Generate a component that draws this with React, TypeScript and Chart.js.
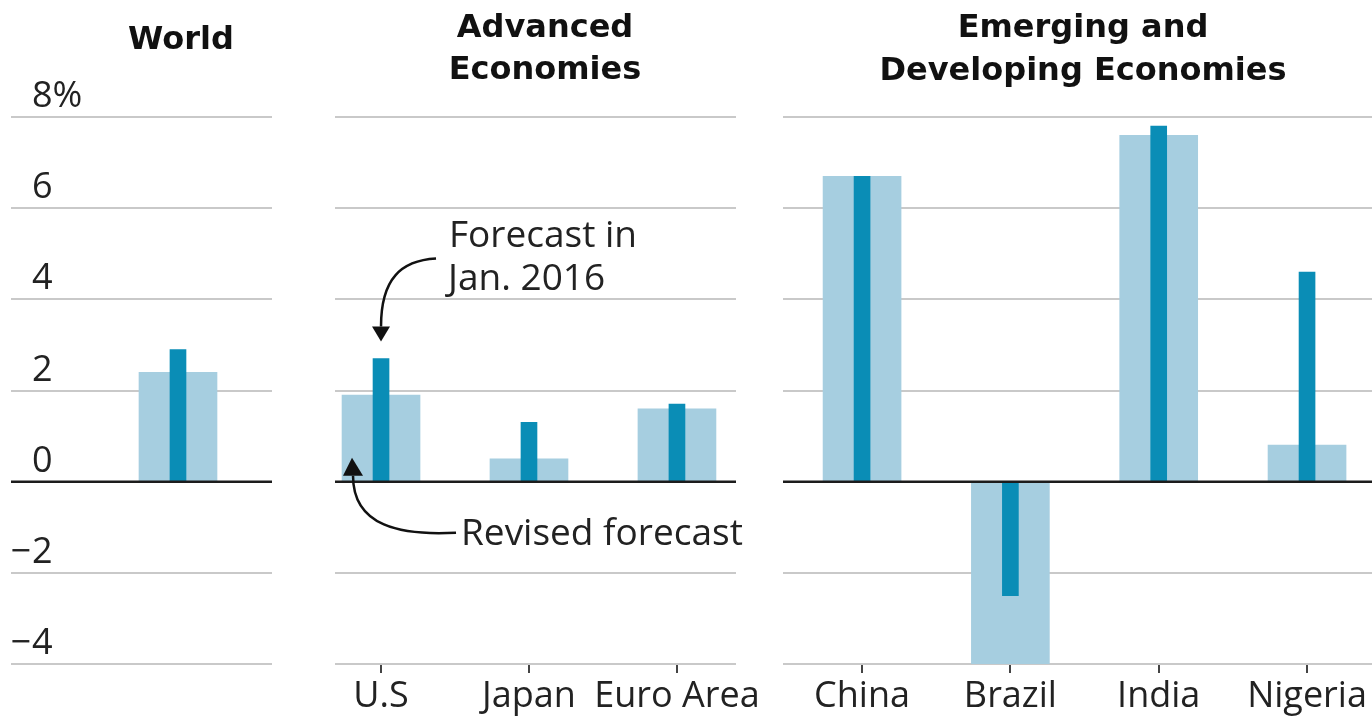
import React, { useEffect, useRef } from "react";
import { Chart, registerables } from "chart.js";

Chart.register(...registerables);

// ---- data ----
const worldLabels = ["World"];
const worldRevised = [2.4];
const worldJan = [2.9];

const advancedLabels = ["U.S", "Japan", "Euro Area"];
const advancedRevised = [1.9, 0.5, 1.6];
const advancedJan = [2.7, 1.3, 1.7];

const emergingLabels = ["China", "Brazil", "India", "Nigeria"];
const emergingRevised = [6.7, -4.0, 7.6, 0.8];
const emergingJan = [6.7, -2.5, 7.8, 4.6];

const yTicks = [-4, -2, 0, 2, 4, 6, 8];

const worldTitle = ["World"];
const advancedTitle = ["Advanced", "Economies"];
const emergingTitle = ["Emerging and", "Developing Economies"];

const janNote = ["Forecast in", "Jan. 2016"];
const revisedNote = "Revised forecast";

// ---- styles ----
const LIGHT = "#a6cee0";
const DARK = "#0a8db6";
const GRID = "#c9c9c9";
const ZERO = "#1c1c1c";
const TEXT = "#222222";
const LABEL_FONT = '36px "Open Sans"';
const NOTE_FONT = '37px "Open Sans"';
const TITLE_FONT = 'bold 32px "DejaVu Sans"';

type Panel = {
  left: number;
  width: number;
  padL: number;
  padR: number;
  xMin: number;
  xMax: number;
  labels: string[];
  revised: number[];
  jan: number[];
  showX: boolean;
  showY: boolean;
  title: string[];
  titleX: number;
  titleBaselines: number[];
  annotate: boolean;
};

const panels: Panel[] = [
  {
    left: 0, width: 300, padL: 11, padR: 28, xMin: -1.128, xMax: 0.635,
    labels: worldLabels, revised: worldRevised, jan: worldJan,
    showX: false, showY: true, title: worldTitle, titleX: 181, titleBaselines: [49], annotate: false,
  },
  {
    left: 300, width: 470, padL: 35, padR: 34, xMin: -0.311, xMax: 2.399,
    labels: advancedLabels, revised: advancedRevised, jan: advancedJan,
    showX: true, showY: false, title: advancedTitle, titleX: 245, titleBaselines: [37, 79], annotate: true,
  },
  {
    left: 770, width: 602, padL: 13, padR: 0, xMin: -0.533, xMax: 3.438,
    labels: emergingLabels, revised: emergingRevised, jan: emergingJan,
    showX: true, showY: false, title: emergingTitle, titleX: 313, titleBaselines: [37, 80], annotate: false,
  },
];

function arrowHead(ctx: CanvasRenderingContext2D, pts: number[][]) {
  ctx.beginPath();
  ctx.moveTo(pts[0][0], pts[0][1]);
  ctx.lineTo(pts[1][0], pts[1][1]);
  ctx.lineTo(pts[2][0], pts[2][1]);
  ctx.closePath();
  ctx.fill();
}

function makePlugin(p: Panel) {
  return {
    id: "panelDecor",
    afterDatasetsDraw(chart: any) {
      const { ctx, chartArea, scales } = chart;
      const y0 = scales.y.getPixelForValue(0);
      ctx.save();
      ctx.strokeStyle = ZERO;
      ctx.lineWidth = 2.5;
      ctx.beginPath();
      ctx.moveTo(chartArea.left, y0);
      ctx.lineTo(chartArea.right, y0);
      ctx.stroke();
      ctx.restore();
    },
    afterDraw(chart: any) {
      const { ctx, chartArea, scales } = chart;
      ctx.save();
      // title
      ctx.fillStyle = "#111";
      ctx.font = TITLE_FONT;
      ctx.textAlign = "center";
      ctx.textBaseline = "alphabetic";
      p.title.forEach((line, i) => ctx.fillText(line, p.titleX, p.titleBaselines[i]));

      // y labels
      ctx.fillStyle = TEXT;
      ctx.font = LABEL_FONT;
      if (p.showY) {
        const x = chartArea.left + 21;
        yTicks.forEach((v) => {
          const y = scales.y.getPixelForValue(v) - 10;
          const body = String(Math.abs(v)) + (v === yTicks[yTicks.length - 1] ? "%" : "");
          ctx.textAlign = "left";
          ctx.fillText(body, x, y);
          if (v < 0) {
            ctx.textAlign = "right";
            ctx.fillText("\u2212", x - 1, y);
          }
        });
      }

      // annotations
      if (p.annotate) {
        const ax = scales.x.getPixelForValue(0);
        const yTop = scales.y.getPixelForValue(p.jan[0]);
        const y0 = scales.y.getPixelForValue(0);
        ctx.font = NOTE_FONT;
        ctx.textAlign = "left";
        ctx.fillText(janNote[0], ax + 68, yTop - 112);
        ctx.fillText(janNote[1], ax + 67, yTop - 69);
        ctx.fillText(revisedNote, ax + 80, y0 + 63);

        ctx.strokeStyle = "#111";
        ctx.fillStyle = "#111";
        ctx.lineWidth = 2.5;
        // arrow to Jan forecast
        ctx.beginPath();
        ctx.moveTo(ax + 55, yTop - 100);
        ctx.bezierCurveTo(ax + 20, yTop - 98, ax, yTop - 80, ax, yTop - 32);
        ctx.stroke();
        arrowHead(ctx, [[ax - 9, yTop - 32], [ax + 9, yTop - 32], [ax, yTop - 17]]);
        // arrow to revised forecast
        ctx.beginPath();
        ctx.moveTo(ax + 75, y0 + 51);
        ctx.bezierCurveTo(ax + 20, y0 + 54, ax - 28, y0 + 45, ax - 28, y0 - 6);
        ctx.stroke();
        arrowHead(ctx, [[ax - 38, y0 - 6], [ax - 18, y0 - 6], [ax - 29, y0 - 24]]);
      }
      ctx.restore();
    },
  };
}

function buildChart(canvas: HTMLCanvasElement, p: Panel) {
  const xs = p.labels.map((_, i) => i);
  return new Chart(canvas, {
    type: "bar",
    data: {
      datasets: [
        {
          label: "Forecast in Jan. 2016",
          data: xs.map((i) => ({ x: i, y: p.jan[i] })),
          backgroundColor: DARK,
          barThickness: 16,
          grouped: false,
        } as any,
        {
          label: "Revised forecast",
          data: xs.map((i) => ({ x: i, y: p.revised[i] })),
          backgroundColor: LIGHT,
          barThickness: 78,
          grouped: false,
        } as any,
      ],
    },
    options: {
      animation: false,
      responsive: false,
      devicePixelRatio: 1,
      layout: { padding: { top: 117, left: p.padL, right: p.padR, bottom: 0 } },
      plugins: {
        legend: { display: false },
        tooltip: { enabled: false },
        title: { display: false },
      },
      scales: {
        x: {
          type: "linear",
          min: p.xMin,
          max: p.xMax,
          offset: false,
          afterBuildTicks: (axis: any) => {
            axis.ticks = xs.map((i) => ({ value: i }));
          },
          afterFit: (axis: any) => {
            axis.height = 55;
          },
          border: { display: false },
          grid: {
            display: p.showX,
            offset: false,
            drawOnChartArea: false,
            drawTicks: true,
            tickLength: 9,
            color: "#444",
            lineWidth: 2,
          },
          ticks: {
            display: p.showX,
            padding: 2,
            color: TEXT,
            font: { family: "Open Sans", size: 36 },
            maxRotation: 0,
            autoSkip: false,
            callback: (v: any) => p.labels[Math.round(Number(v))] ?? "",
          },
        },
        y: {
          type: "linear",
          min: yTicks[0],
          max: yTicks[yTicks.length - 1],
          afterBuildTicks: (axis: any) => {
            axis.ticks = yTicks.map((v) => ({ value: v }));
          },
          afterFit: (axis: any) => {
            axis.width = 0;
          },
          border: { display: false },
          grid: {
            drawTicks: false,
            tickLength: 0,
            color: (c: any) => (c.tick && c.tick.value === 0 ? "rgba(0,0,0,0)" : GRID),
            lineWidth: 2,
          },
          ticks: { display: false },
        },
      },
    },
    plugins: [makePlugin(p)],
  } as any);
}

function PanelCanvas({ p }: { p: Panel }) {
  const ref = useRef<HTMLCanvasElement | null>(null);
  useEffect(() => {
    if (!ref.current) return;
    const chart = buildChart(ref.current, p);
    return () => chart.destroy();
  }, [p]);
  return (
    <canvas
      ref={ref}
      width={p.width}
      height={719}
      style={{ position: "absolute", left: p.left, top: 0, width: p.width, height: 719, display: "block" }}
    />
  );
}

export default function App() {
  return (
    <div style={{ position: "absolute", left: 0, top: 0, width: 1372, height: 719, background: "#fff", overflow: "hidden" }}>
      {panels.map((p, i) => (
        <PanelCanvas key={i} p={p} />
      ))}
    </div>
  );
}
